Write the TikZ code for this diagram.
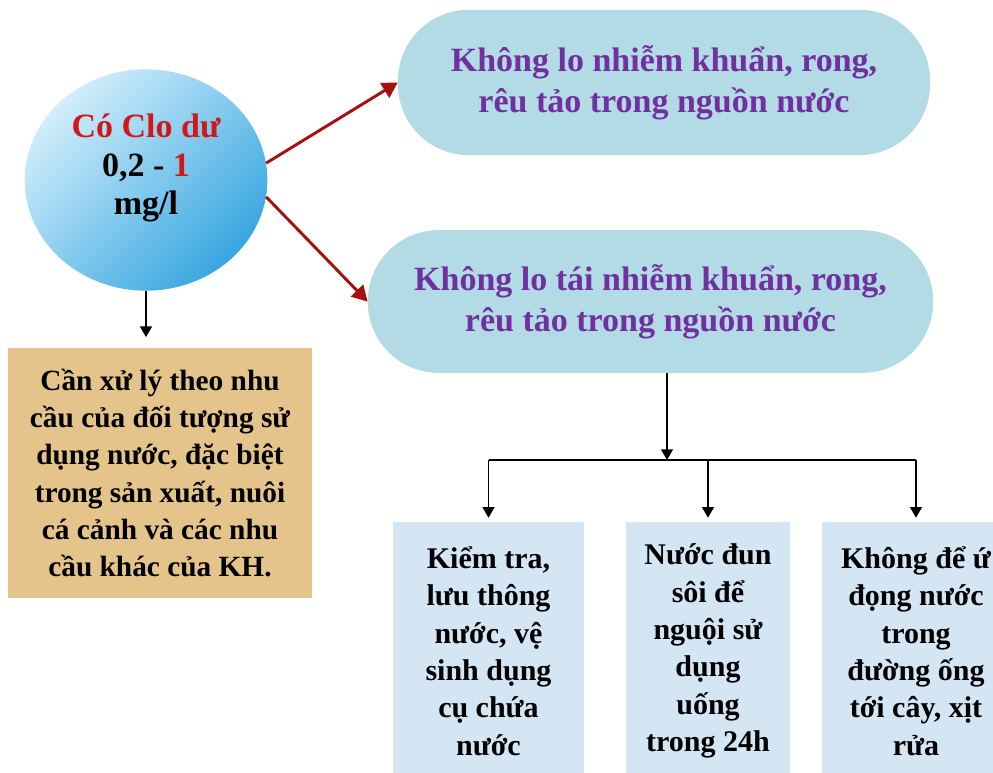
\documentclass[tikz,border=0pt]{standalone}
\usepackage{fontspec}
\setmainfont{Liberation Serif}
\usepackage{xcolor}
\usepackage{tikz}
\usetikzlibrary{shapes,arrows,positioning}

\definecolor{clolight}{HTML}{D2EEFB}
\definecolor{clodark}{HTML}{38A6E1}
\definecolor{clored}{HTML}{D01818}
\definecolor{arrowred}{HTML}{A80F0F}
\definecolor{pillblue}{HTML}{B3DBE5}
\definecolor{pilltext}{HTML}{7030A0}
\definecolor{boxblue}{HTML}{D4E5F4}
\definecolor{papyrus}{HTML}{E4C48B}

\begin{document}
\begin{tikzpicture}[x=0.75pt, y=-0.75pt,
    ball/.style={ellipse, shade, top color=clolight, bottom color=clodark, shading angle=45,
      minimum width=182pt, minimum height=166pt, inner sep=0pt},
    pill/.style={rectangle, fill=pillblue, rounded corners=53pt, inner sep=0pt,
      align=center, text=pilltext, font=\bfseries\fontsize{25.5}{31}\selectfont},
    care/.style={rectangle, fill=papyrus, inner sep=0pt, align=center,
      font=\bfseries\fontsize{22}{28}\selectfont},
    tip/.style={rectangle, fill=boxblue, inner sep=0pt, align=center,
      minimum height=193.5pt, font=\bfseries\fontsize{22.5}{28}\selectfont},
    redarrow/.style={->, >=triangle 60, line width=2.2pt, draw=arrowred},
    blackarrow/.style={->, >=triangle 60, line width=1.2pt}]

    \useasboundingbox (0,0) rectangle (993,772);

    % Clo du
    \node[ball] (clo) at (146,180) {};
    \node[align=center, font=\bfseries\fontsize{25.5}{29}\selectfont] (clotext) at (146,168)
      {\textcolor{clored}{Có Clo dư}\\0,2 - \textcolor{clored}{1}\\mg/l};

    \node[pill, minimum width=399pt, minimum height=109pt] (pillA) at (664,82.5)
      {Không lo nhiễm khuẩn, rong,\\rêu tảo trong nguồn nước};
    \node[pill, minimum width=424pt, minimum height=107pt] (pillB) at (650.5,301.5)
      {Không lo tái nhiễm khuẩn, rong,\\rêu tảo trong nguồn nước};

    \node[care, minimum width=228pt, minimum height=187.5pt] (xuly) at (160,473)
      {Cần xử lý theo nhu\\cầu của đối tượng sử\\dụng nước, đặc biệt\\trong sản xuất, nuôi\\cá cảnh và các nhu\\cầu khác của KH.};

    % ba bien phap
    \node[tip, minimum width=143pt] (kiemtra) at (488.5,651)
      {Kiểm tra,\\lưu thông\\nước, vệ\\sinh dụng\\cụ chứa\\nước};
    \node[tip, minimum width=123pt] (dunsoi) at (708,651)
      {Nước đun\\sôi để\\nguội sử\\dụng\\uống\\trong 24h};
    \node[tip, minimum width=141pt] (ongnuoc) at (916,651)
      {Không để ứ\\đọng nước\\trong\\đường ống\\tới cây, xịt\\rửa};

    \coordinate (split) at (667,460);

    \draw[redarrow] (clo.8) -- (pillA.west);
    \draw[redarrow] (clo.-8) -- (pillB.west);
    \draw[blackarrow, shorten >=8pt] (clo.south) -- (clo.south |- xuly.north);

    \draw[blackarrow] (pillB.south -| split) -- (split);
    \draw[line width=1.2pt] (kiemtra.north |- split) -- (ongnuoc.north |- split);
    \foreach \b in {kiemtra,dunsoi,ongnuoc}
      \draw[blackarrow, shorten >=3pt] (\b.north |- split) -- (\b.north);
\end{tikzpicture}
\end{document}
